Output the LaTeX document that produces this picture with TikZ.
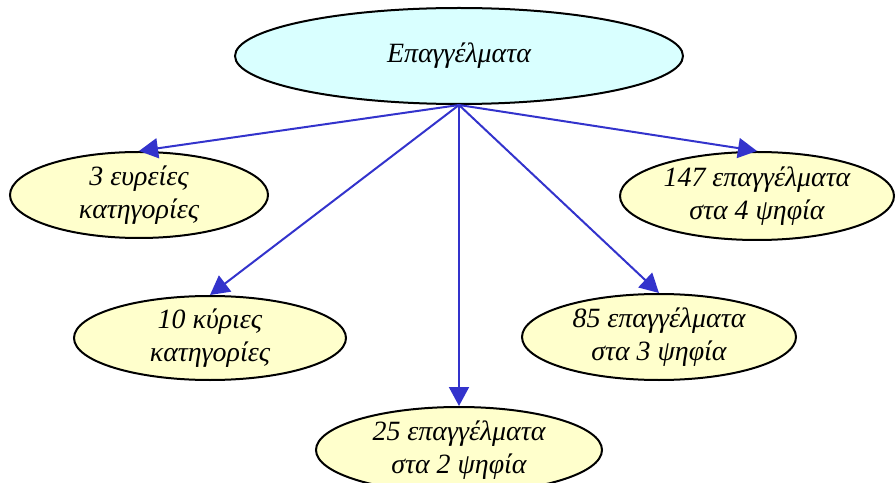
\documentclass[tikz,border=0pt]{standalone}
\usepackage{fontspec}
\setmainfont{Liberation Serif}
\usetikzlibrary{shapes.geometric,arrows.meta}
\definecolor{topfill}{HTML}{D9FFFF}
\definecolor{leaffill}{HTML}{FFFFCC}
\definecolor{arrowblue}{HTML}{3333CC}
\tikzset{
  bubble/.style={ellipse, draw=black, line width=2bp, inner sep=0pt,
    font=\fontsize{28}{33}\selectfont\itshape, align=center},
  leaf/.style={bubble, fill=leaffill},
  link/.style={draw=arrowblue, line width=2bp,
    -{Triangle[length=19bp,width=20bp]}},
}
\begin{document}
\begin{tikzpicture}[x=1bp,y=-1bp]
\useasboundingbox (0,0) rectangle (896,483);
\node[bubble, fill=topfill, minimum width=448bp, minimum height=96bp] (top) at (459,56) {Επαγγέλματα};
\node[leaf, minimum width=258bp, minimum height=86bp] (a) at (139,195) {3 ευρείες\\κατηγορίες};
\node[leaf, minimum width=274bp, minimum height=88bp] (b) at (757,196) {147 επαγγέλματα\\στα 4 ψηφία};
\node[leaf, minimum width=272bp, minimum height=84bp] (c) at (210,338) {10 κύριες\\κατηγορίες};
\node[leaf, minimum width=274bp, minimum height=86bp] (d) at (659,337) {85 επαγγέλματα\\στα 3 ψηφία};
\node[leaf, minimum width=286bp, minimum height=86bp] (e) at (459,450) {25 επαγγέλματα\\στα 2 ψηφία};
\draw[link] (top.south) -- (a.north);
\draw[link] (top.south) -- (b.north);
\draw[link] (top.south) -- (c.north);
\draw[link] (top.south) -- (d.north);
\draw[link] (top.south) -- (e.north);
\end{tikzpicture}
\end{document}
